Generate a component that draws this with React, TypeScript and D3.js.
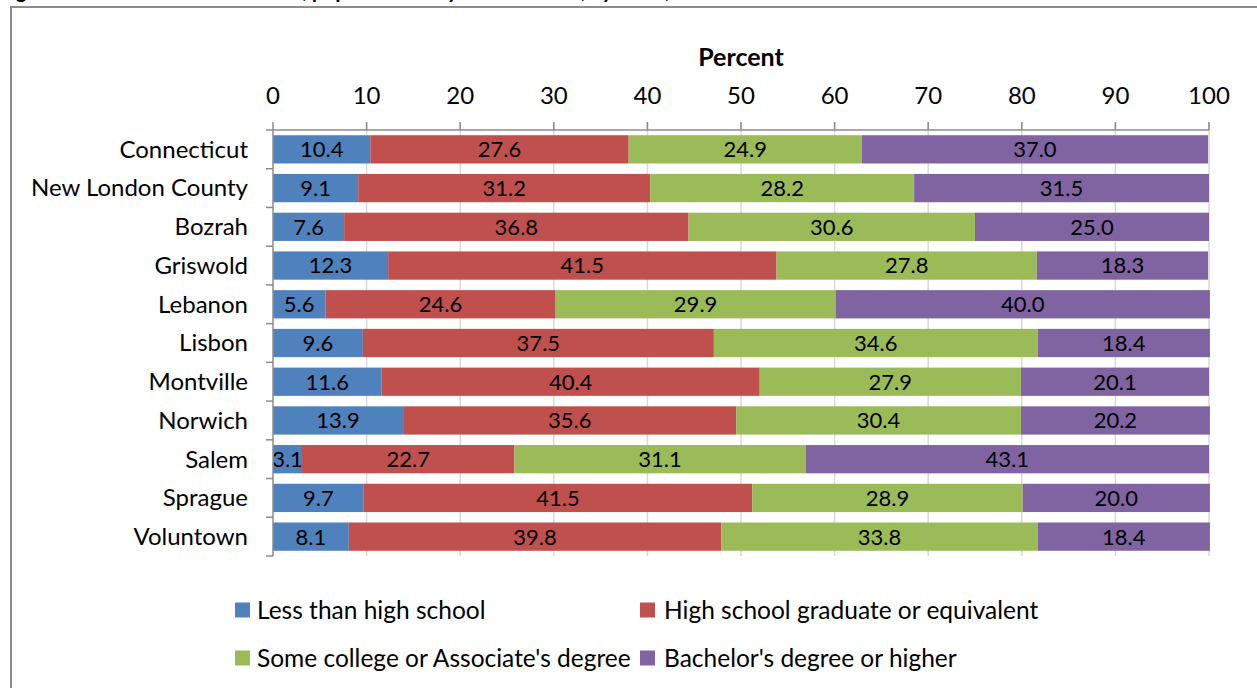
import React from "react";
import * as d3 from "d3";

const categories = ["Connecticut", "New London County", "Bozrah", "Griswold", "Lebanon", "Lisbon", "Montville", "Norwich", "Salem", "Sprague", "Voluntown"];
const seriesNames = ["Less than high school", "High school graduate or equivalent", "Some college or Associate's degree", "Bachelor's degree or higher"];
const lessThanHS = [10.4, 9.1, 7.6, 12.3, 5.6, 9.6, 11.6, 13.9, 3.1, 9.7, 8.1];
const hsGrad = [27.6, 31.2, 36.8, 41.5, 24.6, 37.5, 40.4, 35.6, 22.7, 41.5, 39.8];
const someCollege = [24.9, 28.2, 30.6, 27.8, 29.9, 34.6, 27.9, 30.4, 31.1, 28.9, 33.8];
const bachelors = [37.0, 31.5, 25.0, 18.3, 40.0, 18.4, 20.1, 20.2, 43.1, 20.0, 18.4];
const xTicks = [0, 10, 20, 30, 40, 50, 60, 70, 80, 90, 100];
const colors = ["#4F81BD", "#C0504D", "#9BBB59", "#8064A2"];

const W = 1257, H = 688;
const FONT = "Lato, 'Open Sans', sans-serif";

export default function App() {
  const series = [lessThanHS, hsGrad, someCollege, bachelors];
  const rows = categories.map((c, i) => {
    const o: any = { cat: c };
    seriesNames.forEach((s, j) => (o[s] = series[j][i]));
    return o;
  });
  const stacked = d3.stack<any>().keys(seriesNames)(rows);

  const x = d3.scaleLinear().domain([0, 100]).range([273, 1209]);
  const y = d3.scaleBand().domain(categories).range([130, 556]).paddingInner(0.27).paddingOuter(0.135);
  const yb = d3.scaleBand().domain(categories).range([130, 556]);

  return (
    <svg width={W} height={H} style={{ position: "absolute", left: 0, top: 0, background: "#fff" }} fontFamily={FONT}>
      <rect x={0} y={0} width={W} height={H} fill="#fff" />
      <text x={0} y={-2} fontSize={22} fontWeight="bold" fontStyle="italic" fill="#000">
        Figure 5. Educational attainment, population 25 years and over, by town, 2008-2012
      </text>
      <rect x={11} y={7} width={W + 20} height={H + 20} fill="none" stroke="#8c8c8c" strokeWidth={2} />
      {/* gridlines */}
      {xTicks.slice(1).map((t) => (
        <line key={t} x1={x(t)} x2={x(t)} y1={122} y2={556} stroke="#d9d9d9" strokeWidth={1.5} />
      ))}
      {/* top axis */}
      <line x1={273} x2={1209} y1={130} y2={130} stroke="#8c8c8c" strokeWidth={1.5} />
      {xTicks.map((t) => (
        <g key={t}>
          <line x1={x(t)} x2={x(t)} y1={122} y2={130} stroke="#8c8c8c" strokeWidth={1.5} />
          <text x={x(t)} y={96} dy="0.35em" textAnchor="middle" fontSize={24} fill="#000">{t}</text>
        </g>
      ))}
      <text x={741} y={57} dy="0.35em" textAnchor="middle" fontSize={25} fontWeight="bold" fill="#000">Percent</text>
      {/* bars */}
      {stacked.map((s, si) => (
        <g key={si}>
          {s.map((d, i) => (
            <g key={i}>
              <rect x={x(d[0])} y={y(categories[i])!} width={x(d[1]) - x(d[0])} height={y.bandwidth()} fill={colors[si]} />
              <text x={(x(d[0]) + x(d[1])) / 2} y={y(categories[i])! + y.bandwidth() / 2} dy="0.36em" textAnchor="middle" fontSize={22} fill="#000">
                {series[si][i].toFixed(1)}
              </text>
            </g>
          ))}
        </g>
      ))}
      {/* left axis */}
      <line x1={273} x2={273} y1={130} y2={556} stroke="#8c8c8c" strokeWidth={1.5} />
      {categories.map((c, i) => (
        <g key={c}>
          <line x1={266} x2={273} y1={yb(c)!} y2={yb(c)!} stroke="#8c8c8c" strokeWidth={1.5} />
          {i === categories.length - 1 && (
            <line x1={266} x2={273} y1={556} y2={556} stroke="#8c8c8c" strokeWidth={1.5} />
          )}
          <text x={248} y={yb(c)! + yb.bandwidth() / 2} dy="0.35em" textAnchor="end" fontSize={24} fill="#000">{c}</text>
        </g>
      ))}
      {/* legend */}
      {seriesNames.map((s, i) => {
        const lx = i % 2 === 0 ? 235 : 640;
        const tx = i % 2 === 0 ? 257 : 664;
        const ly = i < 2 ? 610 : 658;
        return (
          <g key={s}>
            <rect x={lx} y={ly - 7.5} width={15} height={15} fill={colors[i]} />
            <text x={tx} y={ly} dy="0.35em" fontSize={24.5} fill="#000">{s}</text>
          </g>
        );
      })}
    </svg>
  );
}
